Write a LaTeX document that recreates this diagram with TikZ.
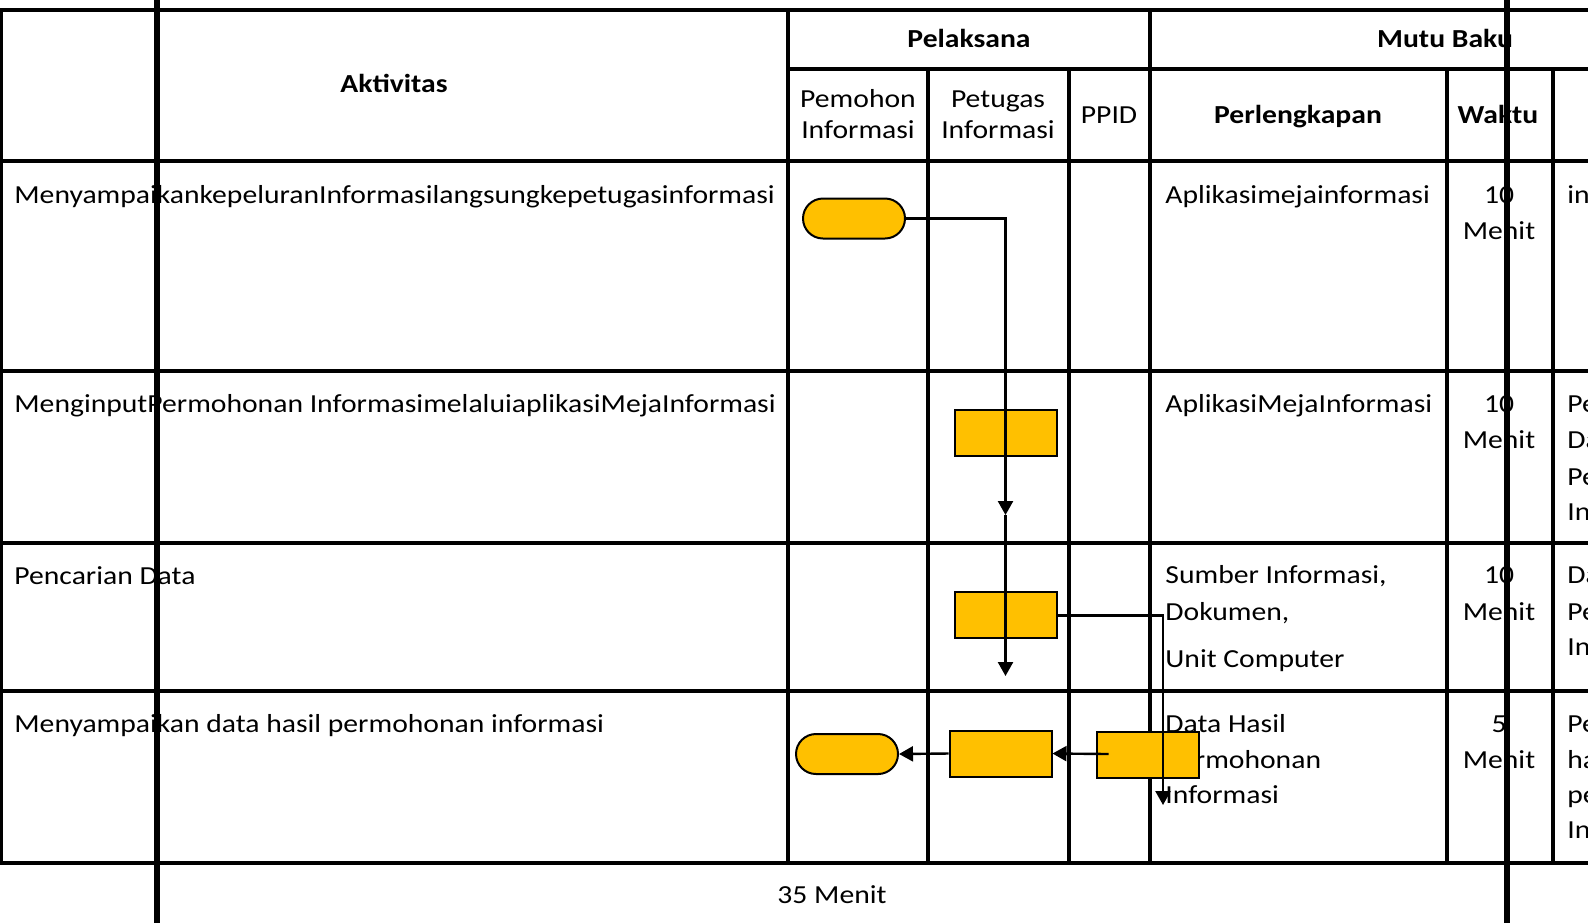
\documentclass[tikz,border=0pt]{standalone}
\usepackage{fontspec}
\setmainfont{Carlito}[FakeStretch=1.14]
\usetikzlibrary{arrows.meta}
\definecolor{kuning}{HTML}{FFC000}

\begin{document}
\begin{tikzpicture}[x=0.5pt,y=-0.5pt,
	garis/.style={line width=1.7pt},
	teks/.style={anchor=base west,inner sep=0pt,font=\fontsize{13}{16}\selectfont},
	tengah/.style={anchor=base,inner sep=0pt,font=\fontsize{13}{16}\selectfont},
	judul/.style={anchor=base,inner sep=0pt,font=\fontsize{13}{16}\selectfont\bfseries},
	terminal/.style={draw,line width=1pt,fill=kuning,rounded corners=10pt,minimum width=51pt,minimum height=20pt,inner sep=0pt},
	proses/.style={draw,line width=1pt,fill=kuning,minimum width=51pt,minimum height=23pt,inner sep=0pt},
	alur/.style={line width=1.2pt,-{Triangle[length=7pt,width=7.5pt]}}]
			\useasboundingbox (0,0) rectangle (1588,923);
			\clip (0,0) rectangle (1588,923);
			\draw [garis] (0,10) -- (1588,10);
			\draw [garis] (788,69) -- (1588,69);
			\draw [garis] (0,161) -- (1588,161);
			\draw [garis] (0,371) -- (1588,371);
			\draw [garis] (0,543) -- (1588,543);
			\draw [garis] (0,691) -- (1588,691);
			\draw [garis] (0,863) -- (1588,863);
			\draw [garis] (1.5,10) -- (1.5,863);
			\draw [garis] (788,10) -- (788,863);
			\draw [garis] (928,69) -- (928,863);
			\draw [garis] (1069,69) -- (1069,863);
			\draw [garis] (1150,10) -- (1150,863);
			\draw [garis] (1447,69) -- (1447,863);
			\draw [garis] (1553,69) -- (1553,863);
			\node [judul] (aktivitas) at (394,92) {Aktivitas};
			\node [judul] (pelaksana) at (969,47) {Pelaksana};
			\node [judul] (mutubaku) at (1445,47) {Mutu Baku};
			\node [tengah] (pemohonA) at (858,107) {Pemohon};
			\node [tengah] (pemohonB) at (858,138) {Informasi};
			\node [tengah] (petugasA) at (998,107) {Petugas};
			\node [tengah] (petugasB) at (998,138) {Informasi};
			\node [tengah] (ppid) at (1109,123) {PPID};
			\node [judul] (perlengkapan) at (1298,123) {Perlengkapan};
			\node [judul] (waktu) at (1498,123) {Waktu};
			\node [teks] (akt1) at (14,203) {MenyampaikankepeluranInformasilangsungkepetugasinformasi};
			\node [teks] (akt2) at (14,412) {MenginputPermohonan InformasimelaluiaplikasiMejaInformasi};
			\node [teks] (akt3) at (14,584) {Pencarian Data};
			\node [teks] (akt4) at (14,732) {Menyampaikan data hasil permohonan informasi};
			\node [teks] (alat1) at (1165,203) {Aplikasimejainformasi};
			\node [teks] (alat2) at (1165,412) {AplikasiMejaInformasi};
			\node [teks] (alat3a) at (1165,583) {Sumber Informasi,};
			\node [teks] (alat3b) at (1165,620) {Dokumen,};
			\node [teks] (alat3c) at (1165,667) {Unit Computer};
			\node [teks] (alat4a) at (1165,732) {Data Hasil};
			\node [teks] (alat4b) at (1165,768) {Permohonan};
			\node [teks] (alat4c) at (1165,803) {Informasi};
			\node [tengah] (w1a) at (1499,203) {10};
			\node [tengah] (w1b) at (1499,239) {Menit};
			\node [tengah] (w2a) at (1499,412) {10};
			\node [tengah] (w2b) at (1499,448) {Menit};
			\node [tengah] (w3a) at (1499,583) {10};
			\node [tengah] (w3b) at (1499,620) {Menit};
			\node [tengah] (w4a) at (1499,732) {5};
			\node [tengah] (w4b) at (1499,768) {Menit};
			\node [teks] (ket1) at (1567,203) {in};
			\node [teks] (ket2a) at (1567,412) {Pe};
			\node [teks] (ket2b) at (1567,448) {Da};
			\node [teks] (ket2c) at (1567,485) {Pe};
			\node [teks] (ket2d) at (1567,520) {In};
			\node [teks] (ket3a) at (1567,583) {Da};
			\node [teks] (ket3b) at (1567,620) {Pe};
			\node [teks] (ket3c) at (1567,655) {In};
			\node [teks] (ket4a) at (1567,732) {Pe};
			\node [teks] (ket4b) at (1567,768) {ha};
			\node [teks] (ket4c) at (1567,803) {pe};
			\node [teks] (ket4d) at (1567,838) {In};
			\node [tengah] (total) at (832,903) {35 Menit};
			\node [terminal] (mulai) at (854,218.5) {};
			\node [proses] (input) at (1006,432.5) {};
			\node [proses] (cari) at (1006,615.3) {};
			\node [proses] (serah) at (1000.5,753.5) {};
			\node [proses] (hasil) at (1148,755) {};
			\node [terminal] (selesai) at (847,754) {};
			\coordinate (k1) at (1005.5,515);
			\coordinate (k2) at (1005.5,676);
			\coordinate (k3) at (1163,805);
			\coordinate (k4) at (1108.5,754);
			\draw [alur] (mulai.east) -| (k1);
			\draw [alur] (k1) -- (k2);
			\draw [alur] (cari.east) -| (k3);
			\draw [alur] (k4) -- (serah.east);
			\draw [alur] (serah.west) -- (selesai.east);
			\draw [line width=2.8pt] (157,0) -- (157,923);
			\draw [line width=2.8pt] (1507,0) -- (1507,923);
		\end{tikzpicture}
\end{document}
